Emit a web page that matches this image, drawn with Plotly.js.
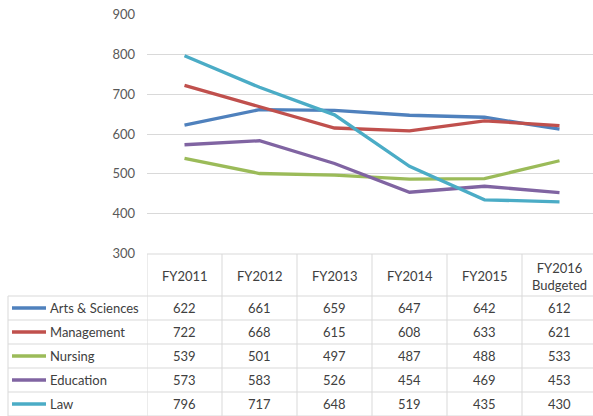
<!DOCTYPE html>
<html>
<head>
<meta charset="utf-8">
<script src="https://cdn.plot.ly/plotly-3.0.1.min.js"></script>
<style>html,body{margin:0;padding:0;background:#fff;}#chart{width:593px;height:416px;}</style>
</head>
<body>
<div id="chart"></div>
<script>
const years = ["FY2011", "FY2012", "FY2013", "FY2014", "FY2015", "FY2016<br>Budgeted"];
const seriesNames = ["Arts & Sciences", "Management", "Nursing", "Education", "Law"];
const artsSciences = [622, 661, 659, 647, 642, 612];
const management = [722, 668, 615, 608, 633, 621];
const nursing = [539, 501, 497, 487, 488, 533];
const education = [573, 583, 526, 454, 469, 453];
const law = [796, 717, 648, 519, 435, 430];
const seriesValues = [artsSciences, management, nursing, education, law];
const colors = ["#4F81BD", "#C0504D", "#9BBB59", "#8064A2", "#4BACC6"];

const W = 593, H = 416;
const plotLeft = 147, plotRight = 593;
const px2x = p => (p - plotLeft) / (plotRight - plotLeft);
const py2y = p => 1 - p / H;
const FONT = "Lato, 'Open Sans', sans-serif";
const gridColor = "#D9D9D9";

const traces = seriesValues.map((vals, r) => ({
  type: "scatter", mode: "lines",
  x: years, y: vals, name: seriesNames[r],
  line: {color: colors[r], width: 3.3},
  hoverinfo: "skip", showlegend: false
}));

const headerTop = 254, headerBottom = 296, rowH = 24, tableLeft = 8;
const tableBottom = headerBottom + rowH * seriesNames.length;
const shapes = [];
const annotations = [];

// header top line
shapes.push({type: "line", xref: "paper", yref: "paper", x0: 0, x1: 1, y0: py2y(headerTop), y1: py2y(headerTop), line: {color: gridColor, width: 1}});
// row lines
for (let r = 0; r <= seriesNames.length; r++) {
  const yy = py2y(headerBottom + r * rowH);
  shapes.push({type: "line", xref: "paper", yref: "paper", x0: px2x(tableLeft), x1: 1, y0: yy, y1: yy, line: {color: gridColor, width: 1}});
}
// left border
shapes.push({type: "line", xref: "paper", yref: "paper", x0: px2x(tableLeft), x1: px2x(tableLeft), y0: py2y(headerBottom), y1: py2y(tableBottom), line: {color: gridColor, width: 1}});
// column boundaries
for (let i = 0; i < years.length; i++) {
  shapes.push({type: "line", xref: "x", yref: "paper", x0: i - 0.5, x1: i - 0.5, y0: py2y(headerTop), y1: py2y(tableBottom), line: {color: gridColor, width: 1}});
}
// header labels
years.forEach((yr, i) => {
  annotations.push({xref: "x", yref: "paper", x: yr, y: py2y((headerTop + headerBottom) / 2 + 1), text: yr, showarrow: false,
    font: {family: FONT, size: 13, color: "#404040"}, xanchor: "center", yanchor: "middle", align: "center"});
});
// rows
seriesNames.forEach((name, r) => {
  const cy = headerBottom + r * rowH + rowH / 2;
  shapes.push({type: "line", xref: "paper", yref: "paper", x0: px2x(12), x1: px2x(46), y0: py2y(cy), y1: py2y(cy), line: {color: colors[r], width: 3.3}});
  annotations.push({xref: "paper", yref: "paper", x: px2x(48), y: py2y(cy), text: name, showarrow: false,
    font: {family: FONT, size: 13, color: "#404040"}, xanchor: "left", yanchor: "middle"});
  seriesValues[r].forEach((v, i) => {
    annotations.push({xref: "x", yref: "paper", x: years[i], y: py2y(cy), text: String(v), showarrow: false,
      font: {family: FONT, size: 13, color: "#404040"}, xanchor: "center", yanchor: "middle"});
  });
});

const layout = {
  width: W, height: H,
  margin: {l: plotLeft, r: W - plotRight, t: 0, b: 0, pad: 0},
  paper_bgcolor: "#fff", plot_bgcolor: "#fff",
  showlegend: false,
  xaxis: {type: "category", range: [-0.5, -0.5 + (plotRight - plotLeft) / 75], showticklabels: false, showgrid: false, zeroline: false, showline: false, ticks: "", fixedrange: true, automargin: false},
  yaxis: {domain: [py2y(253.7), py2y(14.3)], range: [300, 900], dtick: 100, tick0: 300, showgrid: true, gridcolor: gridColor, gridwidth: 1,
    zeroline: false, showline: false, ticks: "", ticklabelstandoff: 11,
    tickfont: {family: FONT, size: 13, color: "#595959"}, automargin: false, fixedrange: true},
  shapes: shapes,
  annotations: annotations
};

Plotly.newPlot("chart", traces, layout, {displayModeBar: false, staticPlot: true});
</script>
</body>
</html>
